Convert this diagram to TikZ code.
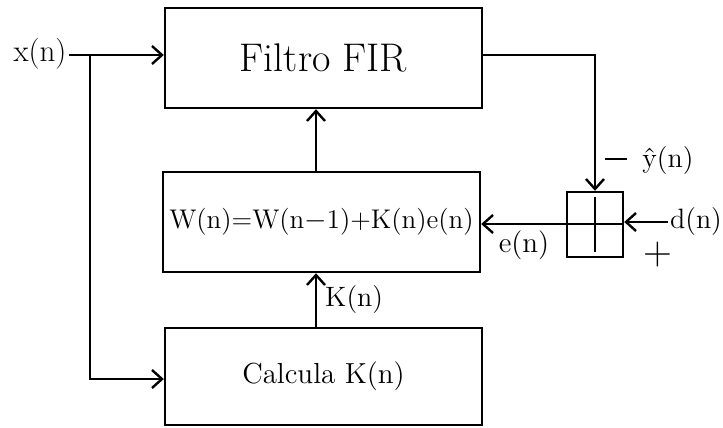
\documentclass[tikz,border=0pt]{standalone}
\usepackage{tikz}
\usetikzlibrary{arrows.meta, positioning, calc}

\tikzset{
  block/.style={draw, line width=1.2pt, minimum width=158.5pt, minimum height=50pt, inner sep=0pt},
  sumbox/.style={draw, line width=1.2pt, minimum width=28pt, minimum height=32.5pt, inner sep=0pt},
  sig/.style={line width=1.2pt, -{Straight Barb[length=5pt, width=9pt, line width=1.2pt]}},
  wire/.style={line width=1.2pt},
  lbl/.style={font=\fontsize{14}{16}\selectfont, inner sep=1pt}
}

\begin{document}
\begin{tikzpicture}[x=0.5pt, y=-0.5pt]
  \useasboundingbox (0,0) rectangle (723,428);

  % blocks
  \node[block, font=\fontsize{20}{24}\selectfont] (fir) at (323.5,58) {Filtro FIR};
  \node[block, font=\fontsize{13.5}{16}\selectfont] (upd) at (321.5,222) {W(n)=W(n{$-$}1)+K(n)e(n)};
  \node[block, minimum height=48.5pt, font=\fontsize{14.5}{17}\selectfont] (calc) at (323.5,376.5) {Calcula K(n)};
  \node[sumbox] (sum) at (595,224.5) {};
  \draw[wire] ($(sum.north)+(0,6)$) -- ($(sum.south)+(0,-6)$);

  % signals
  \node[lbl, font=\fontsize{15.5}{18}\selectfont] (xn) at (40,54) {x(n)};
  \coordinate (split) at (90,55);
  \node[lbl] (dn) at (696,222) {d(n)};
  \node[lbl] (yhat) at (668,161) {\^{y}(n)};
  \node[lbl] (minus) at (616,163) {\rule[0.28em]{11pt}{1.2pt}};
  \node[lbl] (plus) at (658,255) {\fontsize{20}{20}\selectfont +};
  \node[lbl, font=\fontsize{14.5}{17}\selectfont] (en) at (524,245) {e(n)};

  % connectors
  \draw[sig] (xn.east |- split) -- (fir.west |- split);
  \draw[sig] (split) |- (calc.west |- 0,379);
  \draw[sig] (upd.north -| 316,0) -- (fir.south -| 316,0);
  \draw[sig] (calc.north -| 316,0) -- (upd.south -| 316,0)
    node[lbl, pos=0.5, right=3pt] (kn) {K(n)};
  \draw[sig] (fir.east |- 0,55) -| (sum.north);
  \draw[sig] (dn.west) -- (sum.east |- dn.west);
  \draw[sig] (sum.east |- 0,224) -- (upd.east |- 0,224);
\end{tikzpicture}
\end{document}
